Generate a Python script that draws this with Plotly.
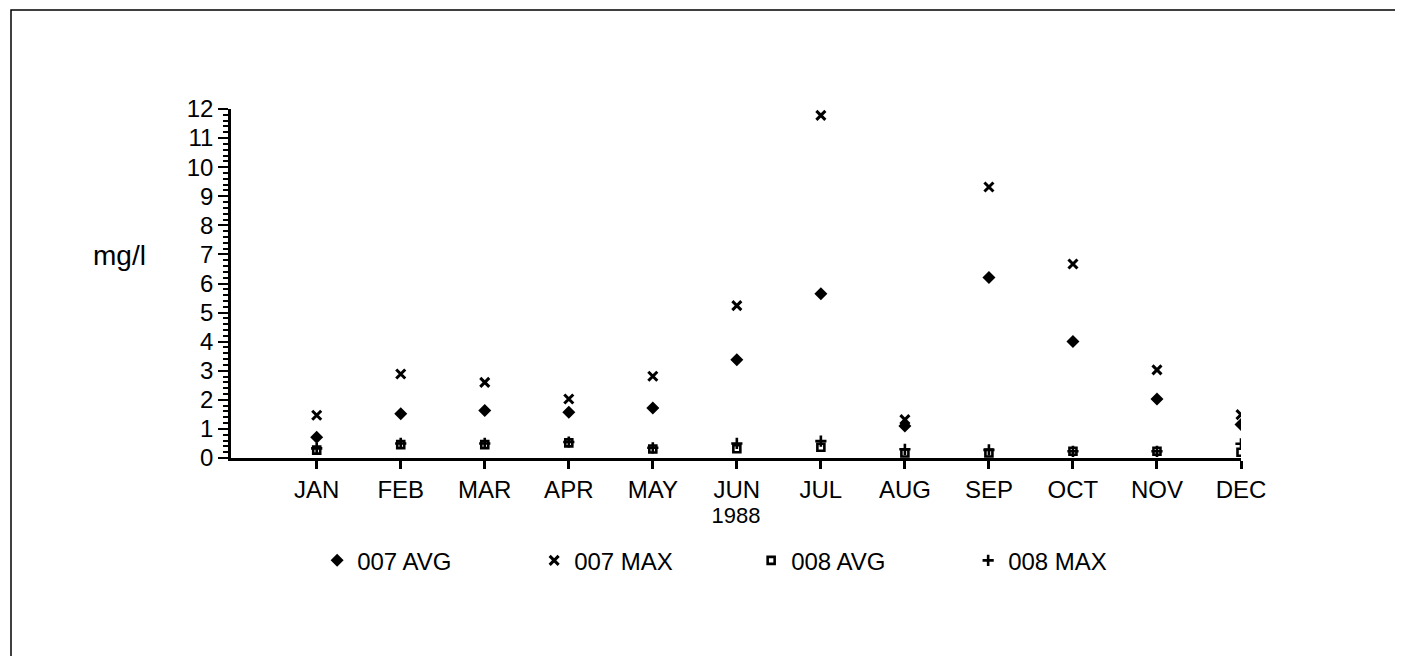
import plotly.graph_objects as go

months = ["JAN", "FEB", "MAR", "APR", "MAY", "JUN", "JUL", "AUG", "SEP", "OCT", "NOV", "DEC"]
avg_007 = [0.71, 1.52, 1.63, 1.57, 1.72, 3.38, 5.65, 1.10, 6.21, 4.01, 2.03, 1.15]
max_007 = [1.47, 2.89, 2.60, 2.03, 2.81, 5.24, 11.78, 1.32, 9.32, 6.67, 3.03, 1.49]
avg_008 = [0.27, 0.46, 0.46, 0.52, 0.31, 0.32, 0.37, 0.17, 0.17, 0.23, 0.23, 0.20]
max_008 = [0.33, 0.50, 0.50, 0.55, 0.35, 0.50, 0.58, 0.30, 0.28, 0.23, 0.23, 0.49]
y_ticks = list(range(0, 13))

series = [
    ("007 AVG", avg_007, "diamond", 10, 0),
    ("007 MAX", max_007, "x-thin-open", 9, 3),
    ("008 AVG", avg_008, "square-open", 7, 2.6),
    ("008 MAX", max_008, "cross-thin-open", 8, 2.6),
]

fig = go.Figure()
xi = list(range(len(months)))
for name, vals, sym, size, lw in series:
    fig.add_trace(go.Scatter(
        x=xi, y=vals, mode="markers", name=name,
        marker=dict(symbol=sym, size=size, color="black",
                    line=dict(color="black", width=lw)),
    ))

PW, PH = 1010, 349   # plot area size in px
fig.update_layout(
    width=1403, height=656,
    margin=dict(l=223, r=170, t=101, b=206),
    paper_bgcolor="white", plot_bgcolor="white",
    font=dict(family="Liberation Sans, Arial, sans-serif", color="black", size=24),
    showlegend=True,
    legend=dict(orientation="h", x=0.515, xanchor="center", y=-0.23, yanchor="top",
                font=dict(size=24), itemsizing="trace", entrywidth=172,
                bgcolor="rgba(0,0,0,0)"),
    xaxis=dict(range=[-1.02, 11], tickmode="array", tickvals=xi, ticktext=months,
               showgrid=False, zeroline=False, showline=True, linecolor="black",
               linewidth=2.5, ticks="outside", ticklen=8, tickwidth=2.5,
               tickcolor="black", tickfont=dict(size=24),
               title=dict(text="1988", font=dict(size=22), standoff=2)),
    yaxis=dict(range=[0, 12], tickmode="array", tickvals=y_ticks,
               showgrid=False, zeroline=False, showline=True, linecolor="black",
               linewidth=2.5, ticks="outside", ticklen=10, tickwidth=2,
               tickcolor="black", tickfont=dict(size=24),
               minor=dict(dtick=0.2, ticks="outside", ticklen=5, tickwidth=1.5,
                          tickcolor="black", showgrid=False)),
    shapes=[
        dict(type="rect", xref="paper", yref="paper",
             x0=(3 - 223) / PW, x1=(1398 - 223) / PW, y0=-215 / PH, y1=(450 - 2) / PH,
             line=dict(color="black", width=1.5), fillcolor="rgba(0,0,0,0)"),
        dict(type="line", xref="paper", yref="paper",
             x0=(5 - 223) / PW, x1=(190 - 223) / PW, y0=-(650 - 450) / PH, y1=-(650 - 450) / PH,
             line=dict(color="#999999", width=2)),
    ],
    annotations=[
        dict(text="mg/l", xref="paper", yref="paper", x=(140 - 223) / PW, y=(450 - 247) / PH,
             xanchor="right", yanchor="middle", showarrow=False, font=dict(size=28)),
    ],
)

fig.write_html("out.html")
